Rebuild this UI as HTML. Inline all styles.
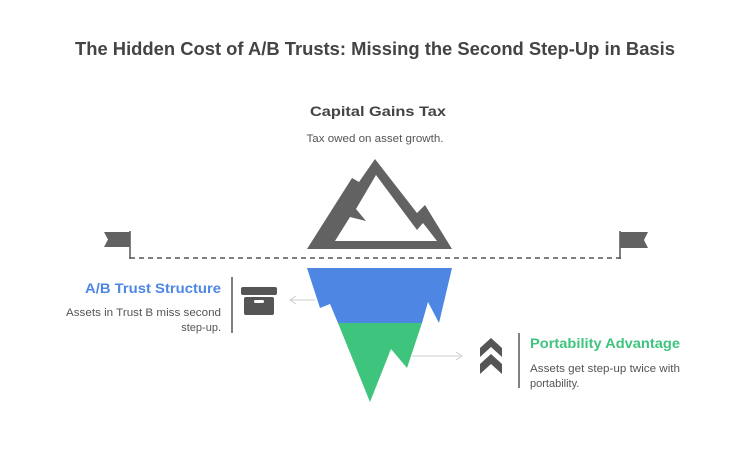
<!DOCTYPE html>
<html><head><meta charset="utf-8"><style>
html,body{margin:0;padding:0;background:#fff}
svg{display:block}
text{font-family:"Liberation Sans",sans-serif}
</style></head><body>
<svg width="750" height="472" viewBox="0 0 750 472" xmlns="http://www.w3.org/2000/svg">
<rect width="750" height="472" fill="#fff"/>
<text x="375" y="55" text-anchor="middle" font-size="18" font-weight="bold" fill="#444" textLength="600" lengthAdjust="spacingAndGlyphs">The Hidden Cost of A/B Trusts: Missing the Second Step-Up in Basis</text>
<text x="378" y="116" text-anchor="middle" font-size="14" font-weight="bold" fill="#444" textLength="136" lengthAdjust="spacingAndGlyphs">Capital Gains Tax</text>
<text x="375" y="142" text-anchor="middle" font-size="11" fill="#555" textLength="137" lengthAdjust="spacingAndGlyphs">Tax owed on asset growth.</text>
<!-- mountain -->
<path fill="#626262" d="M375,159 L417,213 L425,205 L452,249 L307,249 L352,178 L359,182 Z"/>
<path fill="#fff" d="M376,175 L417,230 L423,223 L437,241 L335,241 L350,217 L366,221 L356,209 Z"/>
<!-- dashed line -->
<line x1="130" y1="258" x2="622" y2="258" stroke="#555" stroke-width="1.5" stroke-dasharray="5,4"/>
<!-- flags -->
<line x1="130" y1="231" x2="130" y2="259" stroke="#555" stroke-width="1.5"/>
<path d="M104,232 L130,232 L130,247 L104,247 L108,239.5 Z" fill="#626262"/>
<line x1="620" y1="231" x2="620" y2="259" stroke="#555" stroke-width="1.5"/>
<path d="M620,232 L648,232 L644,240 L648,248 L620,248 Z" fill="#626262"/>
<!-- iceberg -->
<path d="M307,268 L452,268 L439,323 L428,302 L422,323 L338,323 L330,304 L320,308 Z" fill="#4e86e4"/>
<path d="M338,323 L422,323 L407,368 L391,349 L370,402 Z" fill="#3ec47d"/>
<!-- arrows -->
<line x1="290" y1="300" x2="315" y2="300" stroke="#ccc" stroke-width="1"/>
<path d="M290,300 L296,296 M290,300 L296,304" stroke="#ccc" fill="none"/>
<line x1="412" y1="356" x2="460" y2="356" stroke="#ccc" stroke-width="1"/>
<path d="M462,356 L456,352 M462,356 L456,360" stroke="#ccc" fill="none"/>
<!-- left block -->
<text x="221" y="293" text-anchor="end" font-size="14" font-weight="bold" fill="#4e86e4" textLength="136" lengthAdjust="spacingAndGlyphs">A/B Trust Structure</text>
<text x="221" y="316" text-anchor="end" font-size="11" fill="#555" textLength="155" lengthAdjust="spacingAndGlyphs">Assets in Trust B miss second</text>
<text x="221" y="331" text-anchor="end" font-size="11" fill="#555">step-up.</text>
<line x1="232" y1="277" x2="232" y2="333" stroke="#555" stroke-width="1.5"/>
<rect x="241" y="287" width="36" height="8" rx="2" fill="#555"/>
<rect x="244" y="297" width="30" height="18" rx="2" fill="#555"/>
<rect x="254" y="300" width="10" height="3" rx="1.5" fill="#fff"/>
<!-- right block -->
<path d="M491,338 L502,348 L502,357 L491,347 L480,357 L480,348 Z" fill="#555"/>
<path d="M491,354 L502,364 L502,374 L491,364 L480,374 L480,364 Z" fill="#555"/>
<line x1="519" y1="333" x2="519" y2="388" stroke="#555" stroke-width="1.5"/>
<text x="530" y="348" font-size="14" font-weight="bold" fill="#3ec47d" textLength="150" lengthAdjust="spacingAndGlyphs">Portability Advantage</text>
<text x="530" y="372" font-size="11" fill="#555" textLength="150" lengthAdjust="spacingAndGlyphs">Assets get step-up twice with</text>
<text x="530" y="387" font-size="11" fill="#555">portability.</text>
</svg>
</body></html>
